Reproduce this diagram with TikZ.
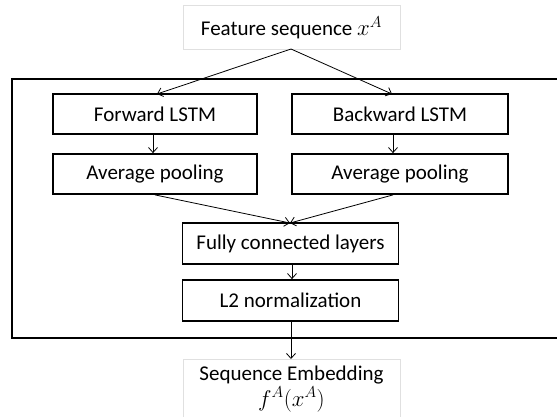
\documentclass[tikz,border=0pt]{standalone}
\usepackage{fontspec}
\setmainfont{Carlito}
\usetikzlibrary{arrows.meta}
\begin{document}
\begin{tikzpicture}[x=1pt,y=-1pt,
  blk/.style={draw=black,line width=1.8pt,minimum width=204pt,minimum height=40pt,inner sep=0pt,font=\fontsize{21}{23}\selectfont},
  fc/.style={blk,minimum width=216pt,minimum height=41pt},
  io/.style={draw=black!12,line width=0.8pt,minimum width=217pt,inner sep=0pt,font=\fontsize{21}{23}\selectfont,align=center},
  txt/.style={font=\fontsize{21}{23}\selectfont,anchor=base,inner sep=0pt},
  conn/.style={line width=0.8pt,-{Straight Barb[length=5pt,width=9pt,line width=0.8pt]}}]
\clip (0,0) rectangle (557,416);
\fill[white] (0,0) rectangle (557,416);
% outer frame
\draw[line width=2pt] (12,79) rectangle (570,338);
% nodes
\node[io,minimum height=44pt] (in) at (291.5,27.5) {Feature sequence \scalebox{1.1}{$x^A$}};
\node[blk] (fl) at (155,114) {Forward LSTM};
\node[blk,minimum width=216pt] (bl) at (400,114) {Backward LSTM};
\node[blk] (fp) at (155,174) {Average pooling};
\node[blk,minimum width=216pt] (bp) at (400,174) {Average pooling};
\node[fc] (fcl) at (290.5,243.5) {Fully connected layers};
\node[fc] (l2) at (290.5,300.5) {L2 normalization};
\node[io,minimum height=70pt,anchor=north] (out) at (291.5,359) {};
\node[txt] (outa) at (291.5,380) {Sequence Embedding};
\node[txt] (outb) at (291.5,406) {\scalebox{1.1}{$f^A(x^A)$}};
% apex coordinates
\coordinate (apexin) at (291,49);
\coordinate (tfl) at (157,94);
\coordinate (tbl) at (392,94);
\coordinate (tfc) at (290,223);
% connectors
\draw[conn] (apexin) -- (tfl);
\draw[conn] (apexin) -- (tbl);
\draw[conn] (fl.south -| 153,0) -- (fp.north -| 153,0);
\draw[conn] (bl.south -| 393,0) -- (bp.north -| 393,0);
\draw[conn] (fp.south) -- (tfc);
\draw[conn] (bp.south -| 393,0) -- (tfc);
\draw[conn] (fcl.south -| 292,0) -- (l2.north -| 292,0);
\draw[conn] (l2.south -| 291,0) -- (out.north -| 291,0);
\end{tikzpicture}
\end{document}
